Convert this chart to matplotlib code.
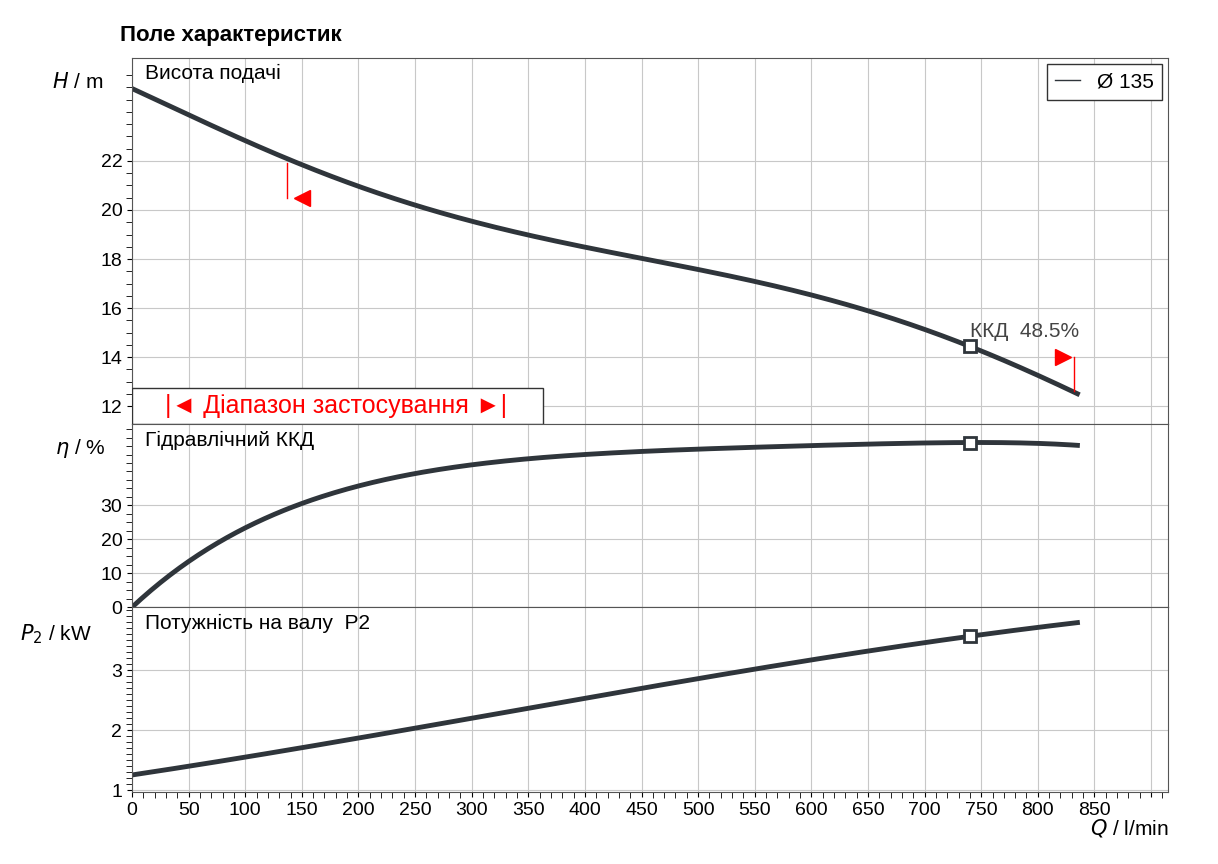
import matplotlib.pyplot as plt
import numpy as np
from matplotlib.patches import Rectangle

plt.rcParams['font.family'] = ['Liberation Sans', 'DejaVu Sans']

q_h = [0, 50, 100, 150, 200, 300, 400, 500, 600, 740, 835]
h = [24.95, 23.9, 22.8, 21.85, 21.0, 19.5, 18.5, 17.6, 16.5, 14.45, 12.5]
q_eta = [0, 25, 50, 100, 150, 200, 250, 300, 400, 500, 600, 700, 740, 790, 835]
eta = [0, 7, 13.5, 23.5, 30.5, 35.5, 39.5, 42.0, 45.0, 46.5, 47.7, 48.4, 48.5, 48.4, 47.7]
q_p = [0, 100, 200, 300, 400, 500, 600, 740, 835]
p2 = [1.25, 1.55, 1.88, 2.2, 2.52, 2.85, 3.17, 3.58, 3.78]
q_op = 740
eta_op = 48.5

dark = '#2f353b'
fig = plt.figure(figsize=(12.18, 8.64), dpi=100)
L, W = 132/1218, 1036/1218
ax1 = fig.add_axes([L, 1-424/864, W, 366/864])
ax2 = fig.add_axes([L, 1-607/864, W, 183/864])
ax3 = fig.add_axes([L, 1-792/864, W, 185/864])

def smooth(x, y, deg):
    xs = np.linspace(x[0], x[-1], 300)
    c = np.polyfit(x, y, deg)
    return xs, np.polyval(c, xs)

for ax in (ax1, ax2, ax3):
    ax.set_xlim(0, 915)
    ax.set_xticks(np.arange(0, 901, 50))
    ax.set_xticks(np.arange(0, 911, 10), minor=True)
    ax.grid(True, which='major', color='#c8c8c8', lw=0.8)
    ax.tick_params(labelsize=14, direction='out')
    ax.tick_params(which='minor', length=4)
    for s in ax.spines.values():
        s.set_color('#555555')
for ax in (ax1, ax2):
    ax.tick_params(axis='x', labelbottom=False, length=0, which='both')

# head
xs, ys = smooth(q_h, h, 5)
ax1.plot(xs, ys, color=dark, lw=3.5)
ax1.set_ylim(11.27, 26.2)
ax1.set_yticks(np.arange(12, 23, 2))
ax1.set_yticks(np.arange(12, 26, 0.5), minor=True)
ax1.plot(q_op, np.polyval(np.polyfit(q_h, h, 5), q_op), 's', ms=9, mfc='white', mec=dark, mew=2)
ax1.text(q_op, 14.8, 'ККД  48.5%', fontsize=15, color='#444444')
ax1.text(0.013, 0.985, 'Висота подачі', transform=ax1.transAxes, fontsize=15, va='top')
ax1.plot([137, 137], [21.9, 20.5], color='red', lw=1)
ax1.plot(150, 20.5, '<', color='red', ms=12)
ax1.plot([832, 832], [14.0, 12.6], color='red', lw=1)
ax1.plot(822, 14.0, '>', color='red', ms=12)
ax1.add_patch(Rectangle((0, 11.27), 363, 1.45, fill=True, fc='white', ec='#333333', lw=1, zorder=3))
ax1.text(180, 12.0, '|◄ Діапазон застосування ►|', color='red', fontsize=18,
         ha='center', va='center', zorder=4)
ax1.legend([plt.Line2D([], [], color=dark, lw=1)], ['Ø 135'], loc='upper right',
           fontsize=15, fancybox=False, edgecolor='#333333', handlelength=1.2,
           borderaxespad=0.3, framealpha=1)

# efficiency
xs, ys = smooth(q_eta, eta, 6)
ax2.plot(xs, ys, color=dark, lw=3.5)
ax2.set_ylim(0, 54)
ax2.set_yticks([0, 10, 20, 30])
ax2.set_yticks(np.arange(0, 54, 2.5), minor=True)
ax2.plot(q_op, eta_op, 's', ms=9, mfc='white', mec=dark, mew=2)
ax2.text(0.013, 0.96, 'Гідравлічний ККД', transform=ax2.transAxes, fontsize=15, va='top')

# power
xs, ys = smooth(q_p, p2, 3)
ax3.plot(xs, ys, color=dark, lw=3.5)
ax3.set_ylim(0.97, 4.05)
ax3.set_yticks([1, 2, 3])
ax3.set_yticks(np.arange(1, 4.05, 0.1), minor=True)
ax3.plot(q_op, np.polyval(np.polyfit(q_p, p2, 3), q_op), 's', ms=9, mfc='white', mec=dark, mew=2)
ax3.text(0.013, 0.96, 'Потужність на валу  P2', transform=ax3.transAxes, fontsize=15, va='top')
ax3.set_xticklabels([str(v) for v in range(0, 851, 50)] + [''])

fig.text(120/1218, 1-35/864, 'Поле характеристик', fontsize=16, fontweight='bold', va='center')
fig.text(52/1218, 1-82/864, '$H$ / m', fontsize=15, va='center')
fig.text(55/1218, 1-448/864, '$\\eta$ / %', fontsize=15, va='center')
fig.text(20/1218, 1-634/864, '$P_2$ / kW', fontsize=15, va='center')
fig.text(1090/1218, 1-828/864, '$Q$ / l/min', fontsize=15, va='center')

fig.savefig('out.png')
